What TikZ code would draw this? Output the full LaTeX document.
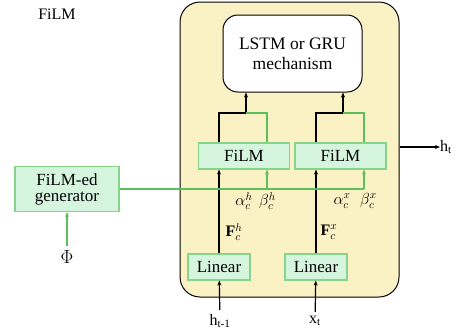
\RequirePackage{fix-cm}
\documentclass[tikz,border=0pt]{standalone}
\usepackage{fontspec}
\setmainfont{Liberation Serif}
\usetikzlibrary{positioning,arrows.meta}
\definecolor{filmfill}{HTML}{D6F5DF}
\definecolor{filmedge}{HTML}{86D38A}
\definecolor{filmwire}{HTML}{5CBF5C}
\definecolor{cellfill}{HTML}{FAF1C4}

\begin{document}
\begin{tikzpicture}[
  x=1pt, y=-1pt,
  font=\fontsize{16}{19}\selectfont,
  box/.style={draw=filmedge, fill=filmfill, line width=1.1pt, inner sep=0pt, align=center},
  filmbox/.style={box, minimum width=91pt, minimum height=26pt},
  linbox/.style={box, minimum width=62pt, minimum height=26pt},
  tip/.style={-{Stealth[length=5pt,width=4pt]}},
  blk/.style={line width=1.2pt},
  grn/.style={draw=filmwire, line width=1.1pt},
  lbl/.style={inner sep=0pt},
]
  \useasboundingbox (0,0) rectangle (460,333);

  % Title and outer cell
  \node[lbl] (title) at (57,14) {FiLM};
  \node[draw, fill=cellfill, line width=1pt, rounded corners=20pt,
        minimum width=219pt, minimum height=295pt] (cell) at (289.5,149.5) {};

  % Recurrent core
  \node[draw, fill=white, line width=1pt, rounded corners=15pt, align=center,
        minimum width=139pt, minimum height=77pt,
        font=\fontsize{17.5}{20}\selectfont] (core) at (292.5,53.5) {LSTM or GRU\\mechanism};

  % FiLM layers
  \node[filmbox, font=\fontsize{17}{19}\selectfont] (filmh) at (244,156) {FiLM};
  \node[filmbox, font=\fontsize{17}{19}\selectfont] (filmx) at (340.5,156) {FiLM};

  % Linear layers
  \node[linbox, font=\fontsize{17}{19}\selectfont] (linh) at (219,267) {Linear};
  \node[linbox, font=\fontsize{17}{19}\selectfont] (linx) at (316,267) {Linear};

  % Generator
  \node[box, minimum width=104pt, minimum height=45pt,
        font=\fontsize{17}{16}\selectfont] (gen) at (67,189) {FiLM-ed\\generator};
  \node[lbl, inner sep=4pt, font=\fontsize{19}{20}\selectfont] (phi) at (67,257) {$\Phi$};

  % Inputs and output
  \node[lbl, inner sep=4pt] (hin) at (220,321) {h\textsubscript{t-1}};
  \node[lbl, inner sep=4pt] (xin) at (315,321) {x\textsubscript{t}};
  \node[lbl] (hout) at (446,147) {h\textsubscript{t}};

  % Junctions
  \coordinate (jh) at (246,113);
  \coordinate (jx) at (343,113);
  \coordinate (gh) at (267,190);
  \coordinate (gx) at (364,190);

  % Labels
  \node[lbl] (ah) at (244,201) {$\alpha_c^h$};
  \node[lbl] (bh) at (267.5,201) {$\beta_c^h$};
  \node[lbl] (ax) at (342,201) {$\alpha_c^x$};
  \node[lbl] (bx) at (368.5,201) {$\beta_c^x$};
  \node[lbl] (fh) at (234,232) {$\mathbf{F}_c^h$};
  \node[lbl] (fx) at (329,232) {$\mathbf{F}_c^x$};

  % Black paths
  \draw[blk, tip] (hin) -- (linh);
  \draw[blk, tip] (xin) -- (linx);
  \draw[blk, tip] (linh) -- (linh |- filmh.south);
  \draw[blk, tip] (linx) -- (linx |- filmx.south);
  \draw[blk] (linh |- filmh.north) |- (jh);
  \draw[blk] (linx |- filmx.north) |- (jx);
  \draw[blk, tip] (jh) -- (jh |- core.south);
  \draw[blk, tip] (jx) -- (jx |- core.south);
  \draw[blk, tip] (cell.east |- hout) -- (hout.west);

  % Green paths
  \draw[grn] (gen.east) -- (gen.east -| gx);
  \draw[grn, tip] (gh |- gen.east) -- (gh |- filmh.south);
  \draw[grn, tip] (gx |- gen.east) -- (gx |- filmx.south);
  \draw[grn] (gh |- filmh.north) |- (jh);
  \draw[grn] (gx |- filmx.north) |- (jx);
  \draw[grn, tip] (phi) -- (gen);
\end{tikzpicture}
\end{document}
